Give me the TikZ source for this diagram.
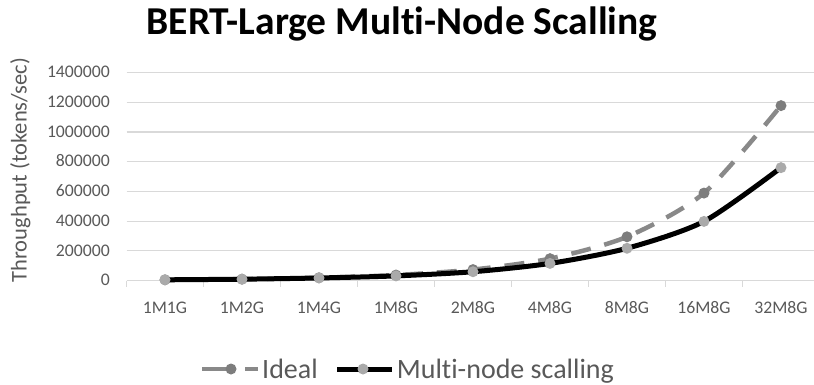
\documentclass[tikz,border=0pt]{standalone}
\usepackage{fontspec}
\setmainfont{Carlito}[Ligatures=NoCommon]
\usetikzlibrary{positioning}
\definecolor{gridgray}{RGB}{217,217,217}
\definecolor{labelgray}{RGB}{89,89,89}
\definecolor{idealgray}{RGB}{137,137,137}
\definecolor{idealmark}{RGB}{125,125,125}
\definecolor{multimark}{RGB}{170,170,170}

\begin{document}
\begin{tikzpicture}[x=1pt, y=-1pt,
    ticklabel/.style={font=\fontsize{17.7}{20}\selectfont, text=labelgray, inner sep=0pt},
    legendlabel/.style={font=\fontsize{28}{32}\selectfont, text=labelgray, inner sep=0pt, anchor=base west},
    idealline/.style={idealgray, line width=4.5pt, dash pattern=on 20pt off 14pt},
    multiline/.style={black, line width=5pt, line join=round},
    idealdot/.style={circle, fill=idealmark, inner sep=0pt, minimum size=11pt},
    multidot/.style={circle, fill=multimark, inner sep=0pt, minimum size=11pt}]
    \useasboundingbox (0,0) rectangle (814,385);

    % Title
    \node[font=\fontsize{39.5}{44}\selectfont\bfseries, anchor=base, inner sep=0pt] (title) at (402,34.3) {BERT-Large Multi-Node Scalling};

    % Gridlines and value labels
    \foreach \k/\lab in {0/0, 1/200000, 2/400000, 3/600000, 4/800000, 5/1000000, 6/1200000, 7/1400000} {
        \draw[gridgray, line width=1.1pt] (126.5,{280.5-29.7*\k}) -- (814,{280.5-29.7*\k});
        \node[ticklabel, anchor=base east] (val\k) at (110,{285.8-29.7*\k}) {\lab};
    }
    \node[font=\fontsize{22.5}{26}\selectfont, text=labelgray, rotate=90, anchor=base, inner sep=0pt] (ytitle) at (26.7,170) {Throughput (tokens/sec)};

    % Categories
    \foreach \k in {0,...,8}
        \draw[gridgray, line width=1.1pt] ({126.5+77*\k},280.5) -- ++(0,6);
    \foreach \n/\cat in {1/1M1G, 2/1M2G, 3/1M4G, 4/1M8G, 5/2M8G, 6/4M8G, 7/8M8G, 8/16M8G, 9/32M8G}
        \node[ticklabel, anchor=base] (cat\n) at ({88+77*\n},313.3) {\cat};

    % Data points (thousands of tokens/sec)
    \foreach \n/\vi/\vm in {1/4.6/4.6, 2/9.2/8.8, 3/18.4/17, 4/36.8/31, 5/73.6/59,
                            6/147.2/115, 7/294.4/217, 8/588.8/398, 9/1177.6/760} {
        \coordinate (i\n) at ({88+77*\n},{280.5-0.1485*\vi});
        \coordinate (m\n) at ({88+77*\n},{280.5-0.1485*\vm});
    }

    % Ideal
    \draw[idealline] plot[smooth, tension=0.45] coordinates {(i1) (i2) (i3) (i4) (i5) (i6) (i7) (i8) (i9)};
    \foreach \n in {1,...,9}
        \node[idealdot] (idot\n) at (i\n) {};

    % Multi-node scalling
    \draw[multiline] plot[smooth, tension=0.45] coordinates {(m1) (m2) (m3) (m4) (m5) (m6) (m7) (m8) (m9)};
    \foreach \n in {1,...,9}
        \node[multidot] (mdot\n) at (m\n) {};

    % Legend
    \coordinate (leg-ia) at (202,369);
    \coordinate (leg-ib) at (258,369);
    \draw[idealline, dash pattern=on 31pt off 12pt] (leg-ia) -- (leg-ib);
    \node[idealdot] (leg-idot) at (231,369) {};
    \node[legendlabel] (leg-itext) at (262,378.3) {Ideal};
    \coordinate (leg-ma) at (337,369);
    \coordinate (leg-mb) at (392,369);
    \draw[multiline] (leg-ma) -- (leg-mb);
    \node[multidot] (leg-mdot) at (363,369) {};
    \node[legendlabel] (leg-mtext) at (396.7,378.3) {Multi-node scalling};
\end{tikzpicture}
\end{document}
